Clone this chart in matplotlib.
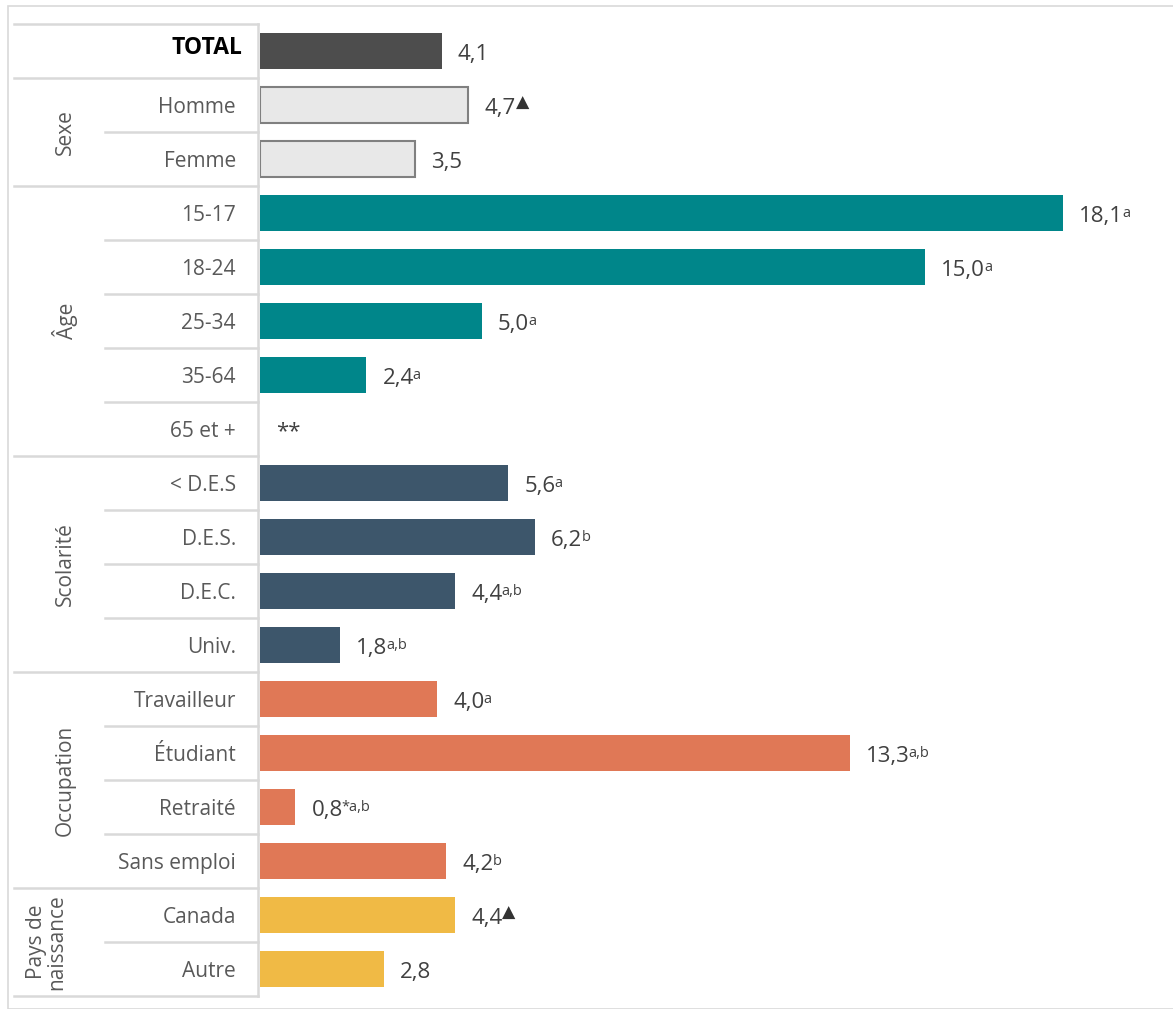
import matplotlib.pyplot as plt
from matplotlib.patches import Rectangle

plt.rcParams['font.family'] = ['Open Sans', 'DejaVu Sans']

# chart data, top to bottom
categories = ["TOTAL", "Homme", "Femme", "15-17", "18-24", "25-34", "35-64", "65 et +",
              "< D.E.S", "D.E.S.", "D.E.C.", "Univ.", "Travailleur", "Étudiant",
              "Retraité", "Sans emploi", "Canada", "Autre"]
values = [4.1, 4.7, 3.5, 18.1, 15.0, 5.0, 2.4, 0.0,
          5.6, 6.2, 4.4, 1.8, 4.0, 13.3, 0.8, 4.2, 4.4, 2.8]
value_labels = ["4,1", "4,7", "3,5", "18,1", "15,0", "5,0", "2,4", "**",
                "5,6", "6,2", "4,4", "1,8", "4,0", "13,3", "0,8", "4,2", "4,4", "2,8"]
superscripts = ["", "▲", "", "a", "a", "a", "a", "",
                "a", "b", "a,b", "a,b", "a", "a,b", "*a,b", "b", "▲", ""]
groups = ["", "Sexe", "Âge", "Scolarité", "Occupation", "Pays de\nnaissance"]
group_sizes = [1, 2, 5, 4, 4, 2]
group_colors = ["#4d4d4d", "#e8e8e8", "#00868a", "#3d566b", "#e07856", "#f0ba45"]

W, H = 1173, 1009
fig = plt.figure(figsize=(W / 100, H / 100), dpi=100)

# outer frame
fig.add_artist(Rectangle((8 / W, 0), 1.2, (H - 6) / H, transform=fig.transFigure,
                         fill=False, edgecolor="#d9d9d9", lw=1.2))

top_px, bot_px = 24, 996
n = len(categories)
y0 = 1 - bot_px / H
hh = (bot_px - top_px) / H

# bar axes
ax = fig.add_axes([260 / W, y0, (W - 260) / W, hh])
ax.set_xlim(0, (W - 260) / 44.36)
ax.set_ylim(n - 0.5, -0.5)
ax.axis("off")

# label table axes
lab = fig.add_axes([0, y0, 260 / W, hh])
lab.set_xlim(0, 260)
lab.set_ylim(n - 0.5, -0.5)
lab.axis("off")

line_col = "#d9d9d9"
lab.plot([258, 258], [-0.5, n - 0.5], color=line_col, lw=1.8, clip_on=False)

start = 0
for g, size, col in zip(groups, group_sizes, group_colors):
    rows = list(range(start, start + size))
    bar_vals = [values[i] for i in rows]
    edge = "#808080" if g == "Sexe" else col
    lw = 1.5 if g == "Sexe" else 0
    ax.barh(rows, bar_vals, height=0.68, color=col, edgecolor=edge, linewidth=lw)
    # group separators
    lab.plot([14, 258], [start - 0.5, start - 0.5], color=line_col, lw=1.8, clip_on=False)
    for r in rows[1:]:
        lab.plot([105, 258], [r - 0.5, r - 0.5], color=line_col, lw=1.8, clip_on=False)
    if g:
        gx = 47 if "\n" in g else 65
        lab.text(gx, start + (size - 1) / 2, g, rotation=90, ha="center", va="center",
                 fontsize=15, color="#595959", linespacing=0.95)
    start += size
lab.plot([14, 258], [n - 0.5, n - 0.5], color=line_col, lw=1.8, clip_on=False)

for i, cat in enumerate(categories):
    if cat == "TOTAL":
        lab.text(242, i - 0.06, cat, ha="right", va="center", fontsize=16.5,
                 fontweight="bold", color="black")
    else:
        lab.text(236, i + 0.04, cat, ha="right", va="center", fontsize=15, color="#595959")

main_texts = []
for i, (v, txt) in enumerate(zip(values, value_labels)):
    t = ax.annotate(txt, xy=(v, i + 0.16), xytext=(11.5, 0), textcoords="offset points",
                    ha="left", va="baseline", fontsize=16, color="#404040")
    main_texts.append(t)

# superscripts go right after the main label, raised above its baseline
fig.canvas.draw()
renderer = fig.canvas.get_renderer()
inv = ax.transData.inverted()
for i, (t, sup) in enumerate(zip(main_texts, superscripts)):
    if not sup:
        continue
    bb = t.get_window_extent(renderer)
    base = ax.transData.transform((0, i + 0.16))[1]
    if sup == "▲":
        x, y = inv.transform((bb.x1, base + 6))
        ax.text(x, y, sup, ha="left", va="baseline", fontsize=12.5,
                color="#333333", family="DejaVu Sans")
    else:
        x, y = inv.transform((bb.x1 - 1, base + 4.5))
        ax.text(x, y, sup, ha="left", va="baseline", fontsize=10.5, color="#404040")

fig.savefig("out.png", dpi=100)
